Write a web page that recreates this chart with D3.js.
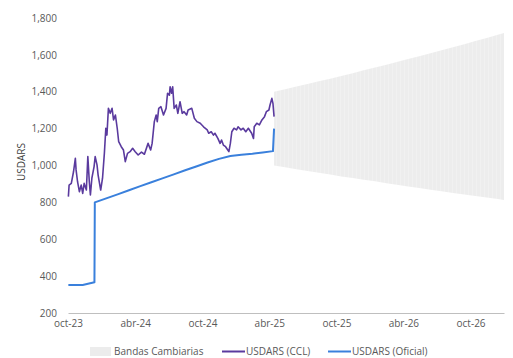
<!DOCTYPE html>
<html>
<head>
<meta charset="utf-8">
<script src="https://cdn.jsdelivr.net/npm/d3@7"></script>
<style>
  body { margin: 0; background: #fff; }
  text { font-family: "Open Sans", "Noto Sans", sans-serif; }
</style>
</head>
<body>
<svg id="chart" width="513" height="358"></svg>
<script>
// USDARS CCL (daily-ish readings)
const cclDates = [
  "2023-10-02","2023-10-04","2023-10-10","2023-10-16","2023-10-21","2023-10-23","2023-10-27","2023-11-01",
  "2023-11-06","2023-11-10","2023-11-14","2023-11-20","2023-11-24","2023-11-28","2023-12-01","2023-12-05",
  "2023-12-11","2023-12-14","2023-12-19","2023-12-22","2023-12-29","2024-01-03","2024-01-08","2024-01-12",
  "2024-01-15","2024-01-19","2024-01-24","2024-01-29","2024-02-02","2024-02-07","2024-02-12","2024-02-16",
  "2024-02-23","2024-02-29","2024-03-05","2024-03-11","2024-03-18","2024-03-25","2024-04-01","2024-04-09",
  "2024-04-18","2024-04-26","2024-05-06","2024-05-13","2024-05-17","2024-05-23","2024-05-28","2024-05-31",
  "2024-06-04","2024-06-10","2024-06-17","2024-06-24","2024-06-28","2024-07-03","2024-07-05","2024-07-09",
  "2024-07-12","2024-07-16","2024-07-22","2024-07-26","2024-08-01","2024-08-07","2024-08-12","2024-08-19",
  "2024-08-23","2024-09-02","2024-09-09","2024-09-16","2024-09-25","2024-10-04","2024-10-14","2024-10-18",
  "2024-10-25","2024-10-31","2024-11-04","2024-11-12","2024-11-18","2024-11-22","2024-11-27","2024-12-03",
  "2024-12-09","2024-12-12","2024-12-16","2024-12-20","2024-12-26","2025-01-02","2025-01-06","2025-01-14",
  "2025-01-20","2025-01-27","2025-02-03","2025-02-12","2025-02-17","2025-02-19","2025-02-26","2025-03-05",
  "2025-03-12","2025-03-19","2025-03-24","2025-03-31","2025-04-03","2025-04-08","2025-04-11","2025-04-14"
];
const cclValues = [
  831, 894, 903, 966, 1039, 976, 912, 858,
  894, 849, 903, 867, 1048, 912, 840, 931,
  994, 1048, 1003, 948, 867, 931, 1066, 1202,
  1165, 1310, 1283, 1310, 1247, 1274, 1202, 1129,
  1102, 1084, 1021, 1066, 1075, 1093, 1075, 1057,
  1073, 1061, 1120, 1084, 1120, 1238, 1274, 1238,
  1310, 1319, 1274, 1310, 1392, 1382, 1427, 1392,
  1427, 1310, 1328, 1283, 1346, 1283, 1292, 1274,
  1301, 1310, 1256, 1238, 1229, 1210, 1193, 1175,
  1183, 1165, 1175, 1147, 1120, 1138, 1111, 1102,
  1084, 1075, 1120, 1183, 1202, 1193, 1210, 1193,
  1202, 1183, 1202, 1175, 1147, 1210, 1229, 1220,
  1247, 1265, 1292, 1301, 1328, 1364, 1337, 1265
];

// USDARS official rate
const oficialDates = [
  "2023-10-02","2023-11-10","2023-12-12","2023-12-13","2024-01-15","2024-02-15","2024-03-15","2024-04-15",
  "2024-05-15","2024-06-14","2024-07-15","2024-08-15","2024-09-16","2024-10-15","2024-11-15","2024-12-16",
  "2025-01-15","2025-02-14","2025-03-14","2025-04-11","2025-04-14"
];
const oficialValues = [
  352, 352, 367, 800, 823, 845, 866, 888,
  909, 930, 952, 974, 996, 1016, 1036, 1052,
  1058, 1064, 1071, 1078, 1200
];

// Exchange-rate band (floor / ceiling)
const bandDates = [
  "2025-04-14","2025-05-14","2025-06-14","2025-07-14","2025-08-14","2025-09-14","2025-10-14","2025-11-14",
  "2025-12-14","2026-01-14","2026-02-14","2026-03-14","2026-04-14","2026-05-14","2026-06-14","2026-07-14",
  "2026-08-14","2026-09-14","2026-10-14","2026-11-14","2026-12-14","2026-12-31"
];
const bandUpper = [
  1400, 1414, 1428, 1442, 1457, 1471, 1486, 1501,
  1516, 1531, 1546, 1562, 1578, 1593, 1609, 1625,
  1642, 1658, 1675, 1692, 1709, 1718
];
const bandLower = [
  1000, 990, 980, 970, 961, 951, 941, 932,
  923, 914, 904, 895, 886, 878, 869, 860,
  851, 843, 835, 826, 818, 813
];

const yTicks = [200, 400, 600, 800, 1000, 1200, 1400, 1600, 1800];
const xTickDates = ["2023-10-01","2024-04-01","2024-10-01","2025-04-01","2025-10-01","2026-04-01","2026-10-01"];
const xTickLabels = ["oct-23","abr-24","oct-24","abr-25","oct-25","abr-26","oct-26"];
const legendLabels = ["Bandas Cambiarias", "USDARS (CCL)", "USDARS (Oficial)"];

const parse = d3.timeParse("%Y-%m-%d");
const svg = d3.select("#chart");

const x = d3.scaleTime()
  .domain([parse("2023-10-01"), parse("2026-12-31")])
  .range([68, 504]);
const y = d3.scaleLinear().domain([200, 1800]).range([313, 18]);

const colors = { band: "#ececec", ccl: "#5a3a9e", oficial: "#3a80dc" };

// faintly striped fill for the band columns
const defs = svg.append("defs");
const pat = defs.append("pattern")
  .attr("id", "bandStripes").attr("patternUnits", "userSpaceOnUse")
  .attr("width", 4).attr("height", 10);
pat.append("rect").attr("width", 4).attr("height", 10).attr("fill", "#ededed");
pat.append("rect").attr("width", 1).attr("height", 10).attr("fill", "#f1f1f1");

// band area
const band = bandDates.map((d, i) => ({ date: parse(d), lo: bandLower[i], hi: bandUpper[i] }));
svg.append("path")
  .datum(band)
  .attr("fill", "url(#bandStripes)")
  .attr("d", d3.area().x(d => x(d.date)).y0(d => y(d.lo)).y1(d => y(d.hi)));

// x axis
const xAxis = d3.axisBottom(x)
  .tickValues(xTickDates.map(parse))
  .tickFormat((d, i) => xTickLabels[i])
  .tickSize(0).tickPadding(7);
const gx = svg.append("g").attr("transform", `translate(0,${y(200)})`).call(xAxis);
gx.select(".domain").attr("stroke", "#bfbfbf").attr("stroke-width", 1);
gx.selectAll("text").attr("font-size", 10).attr("fill", "#595959")
  .style("font-family", '"Open Sans", sans-serif');

// y axis (labels only)
const yAxis = d3.axisLeft(y).tickValues(yTicks).tickFormat(d3.format(","))
  .tickSize(0).tickPadding(0);
const gy = svg.append("g").attr("transform", "translate(57,0)").call(yAxis);
gy.select(".domain").remove();
gy.selectAll("text").attr("font-size", 10).attr("fill", "#595959")
  .style("font-family", '"Open Sans", sans-serif');

svg.append("text")
  .attr("transform", "translate(25,162) rotate(-90)")
  .attr("text-anchor", "middle")
  .attr("font-size", 10).attr("fill", "#404040")
  .text("USDARS");

// lines
const line = d3.line().x(d => x(d.date)).y(d => y(d.v));
const oficial = oficialDates.map((d, i) => ({ date: parse(d), v: oficialValues[i] }));
const ccl = cclDates.map((d, i) => ({ date: parse(d), v: cclValues[i] }));

svg.append("path").datum(oficial)
  .attr("fill", "none").attr("stroke", colors.oficial).attr("stroke-width", 2)
  .attr("stroke-linejoin", "round").attr("d", line);
svg.append("path").datum(ccl)
  .attr("fill", "none").attr("stroke", colors.ccl).attr("stroke-width", 1.6)
  .attr("stroke-linejoin", "round").attr("d", line);

// legend
const lg = svg.append("g").attr("font-size", 10).attr("fill", "#595959");
lg.append("rect").attr("x", 90).attr("y", 347).attr("width", 21).attr("height", 9).attr("fill", colors.band);
lg.append("text").attr("x", 114).attr("y", 355).text(legendLabels[0]);
lg.append("line").attr("x1", 222).attr("x2", 245).attr("y1", 351.5).attr("y2", 351.5)
  .attr("stroke", colors.ccl).attr("stroke-width", 2);
lg.append("text").attr("x", 246).attr("y", 355).text(legendLabels[1]);
lg.append("line").attr("x1", 328).attr("x2", 351).attr("y1", 351.5).attr("y2", 351.5)
  .attr("stroke", colors.oficial).attr("stroke-width", 2);
lg.append("text").attr("x", 352).attr("y", 355).text(legendLabels[2]);
</script>
</body>
</html>
